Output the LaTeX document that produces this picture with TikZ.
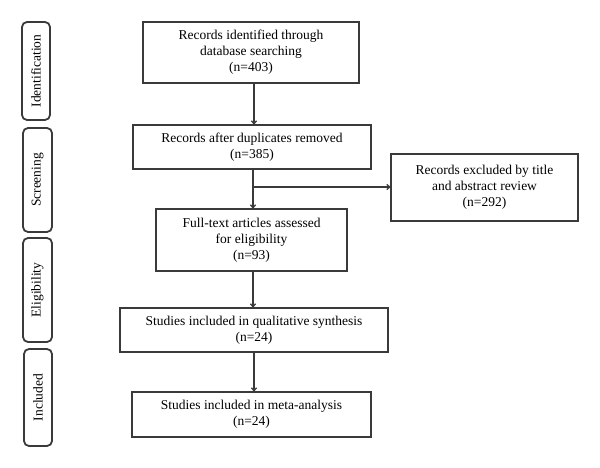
\documentclass[tikz,border=0pt]{standalone}
\usepackage{fontspec}
\setmainfont{Liberation Serif}
\usetikzlibrary{arrows.meta}
\definecolor{ln}{HTML}{3A3A3A}
\begin{document}
\begin{tikzpicture}[x=1pt,y=-1pt,
  box/.style={draw=ln,line width=1.3pt,rectangle,align=center,inner sep=0pt,
    font=\fontsize{13.5}{16}\selectfont,text=black},
  phase/.style={draw=ln,line width=1.8pt,rounded corners=5pt},
  plabel/.style={rotate=90,font=\fontsize{13.5}{15}\selectfont,text=black},
  arr/.style={draw=ln,line width=1.3pt,-{To[length=4pt,width=6pt]}}]
\useasboundingbox (0,0) rectangle (600,468);
% phase labels
\draw[phase] (22,22) rectangle (50,120);
\node[plabel] (pid) at (36,71) {Identification};
\draw[phase] (23,128) rectangle (52,232);
\node[plabel] (psc) at (37.5,180) {Screening};
\draw[phase] (23,238) rectangle (52,342);
\node[plabel] (pel) at (37.5,290) {Eligibility};
\draw[phase] (24,349) rectangle (52,446);
\node[plabel] (pin) at (38,397.5) {Included};
% main boxes
\node[box,minimum width=216pt,minimum height=61pt] (b1) at (251,52.5)
  {Records identified through\\database searching\\(n=403)};
\node[box,minimum width=238pt,minimum height=44pt] (b2) at (252,147)
  {Records after duplicates removed\\(n=385)};
\node[box,minimum width=187pt,minimum height=67pt] (ex) at (484.5,187.5)
  {Records excluded by title\\and abstract review\\(n=292)};
\node[box,minimum width=191pt,minimum height=62pt] (b3) at (251.5,240)
  {Full-text articles assessed\\for eligibility\\(n=93)};
\node[box,minimum width=268pt,minimum height=44pt] (b4) at (254,330)
  {Studies included in qualitative synthesis\\(n=24)};
\node[box,minimum width=239pt,minimum height=45pt] (b5) at (251.5,414.5)
  {Studies included in meta-analysis\\(n=24)};
% connectors
\coordinate (c1) at (254,0);
\coordinate (c2) at (253,0);
\coordinate (br) at (254,187);
\draw[arr] (b1.south -| c1) -- (b2.north -| c1);
\draw[arr] (b2.south -| c2) -- (b3.north -| c2);
\draw[arr] (br) -- (ex.west |- br);
\draw[arr] (b3.south -| c2) -- (b4.north -| c2);
\draw[arr] (b4.south -| c1) -- (b5.north -| c1);
\end{tikzpicture}
\end{document}
